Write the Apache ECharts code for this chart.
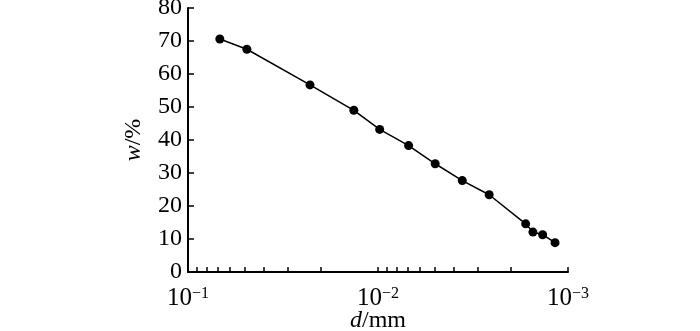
<!DOCTYPE html>
<html>
<head>
<meta charset="utf-8">
<script src="https://cdn.jsdelivr.net/npm/echarts@6/dist/echarts.min.js"></script>
<style>
  html, body { margin: 0; padding: 0; background: #fff; }
  #main { width: 700px; height: 331px; }
</style>
</head>
<body>
<div id="main"></div>
<script>
// particle size d (mm) and cumulative mass fraction w (%)
const diameters = [0.068, 0.049, 0.0228, 0.0134, 0.0098, 0.0069, 0.0050, 0.0036, 0.0026, 0.00167, 0.00153, 0.00136, 0.00117];
const fractions = [70.6, 67.5, 56.7, 49.0, 43.2, 38.3, 32.8, 27.7, 23.4, 14.6, 12.1, 11.3, 8.9];

// log axis ticks (2..9 minor ticks per decade)
const xTickValues = [
  0.1, 0.09, 0.08, 0.07, 0.06, 0.05, 0.04, 0.03, 0.02,
  0.01, 0.009, 0.008, 0.007, 0.006, 0.005, 0.004, 0.003, 0.002,
  0.001
];
const xLabelValues = [0.1, 0.01, 0.001];

const serif = '"Liberation Serif", "Times New Roman", serif';

let chart = echarts.init(document.getElementById('main'));

chart.setOption({
  animation: false,
  grid: {
    left: 188,
    right: 132,
    top: 8,
    bottom: 59,
    containLabel: false,
    outerBoundsMode: 'none'
  },
  xAxis: {
    type: 'log',
    inverse: true,
    min: 0.001,
    max: 0.1,
    logBase: 10,
    name: '{i|d}/mm',
    nameLocation: 'middle',
    nameGap: 37,
    nameMoveOverlap: false,
    nameTextStyle: {
      fontFamily: serif,
      fontSize: 24,
      color: '#000',
      rich: {
        i: { fontFamily: serif, fontSize: 24, fontStyle: 'italic', color: '#000' }
      }
    },
    axisLine: { show: true, lineStyle: { color: '#000', width: 2 } },
    axisTick: {
      show: true,
      inside: true,
      length: 5,
      customValues: xTickValues,
      lineStyle: { color: '#000', width: 1.5 }
    },
    axisLabel: {
      customValues: xLabelValues,
      margin: 14,
      color: '#000',
      formatter: function (v) {
        let e = Math.round(Math.log10(v));
        return '{b|10}{s|' + (e < 0 ? '\u2212' + (-e) : e) + '}';
      },
      rich: {
        b: { fontFamily: serif, fontSize: 25, color: '#000', verticalAlign: 'bottom' },
        s: { fontFamily: serif, fontSize: 16, color: '#000', verticalAlign: 'top' }
      }
    },
    splitLine: { show: false },
    minorTick: { show: false },
    minorSplitLine: { show: false }
  },
  yAxis: {
    type: 'value',
    min: 0,
    max: 80,
    interval: 10,
    name: '{i|w}/%',
    nameLocation: 'middle',
    nameGap: 42,
    nameRotate: 90,
    nameMoveOverlap: false,
    nameTextStyle: {
      fontFamily: serif,
      fontSize: 24,
      color: '#000',
      rich: {
        i: { fontFamily: serif, fontSize: 24, fontStyle: 'italic', color: '#000' }
      }
    },
    axisLine: { show: true, lineStyle: { color: '#000', width: 2 } },
    axisTick: {
      show: true,
      inside: true,
      length: 6,
      lineStyle: { color: '#000', width: 1.5 }
    },
    axisLabel: {
      fontFamily: serif,
      fontSize: 24,
      color: '#000',
      margin: 6
    },
    splitLine: { show: false }
  },
  series: [
    {
      type: 'line',
      data: diameters.map((d, i) => [d, fractions[i]]),
      symbol: 'circle',
      symbolSize: 9,
      lineStyle: { color: '#000', width: 1.5 },
      itemStyle: { color: '#000' }
    }
  ]
});
</script>
</body>
</html>
